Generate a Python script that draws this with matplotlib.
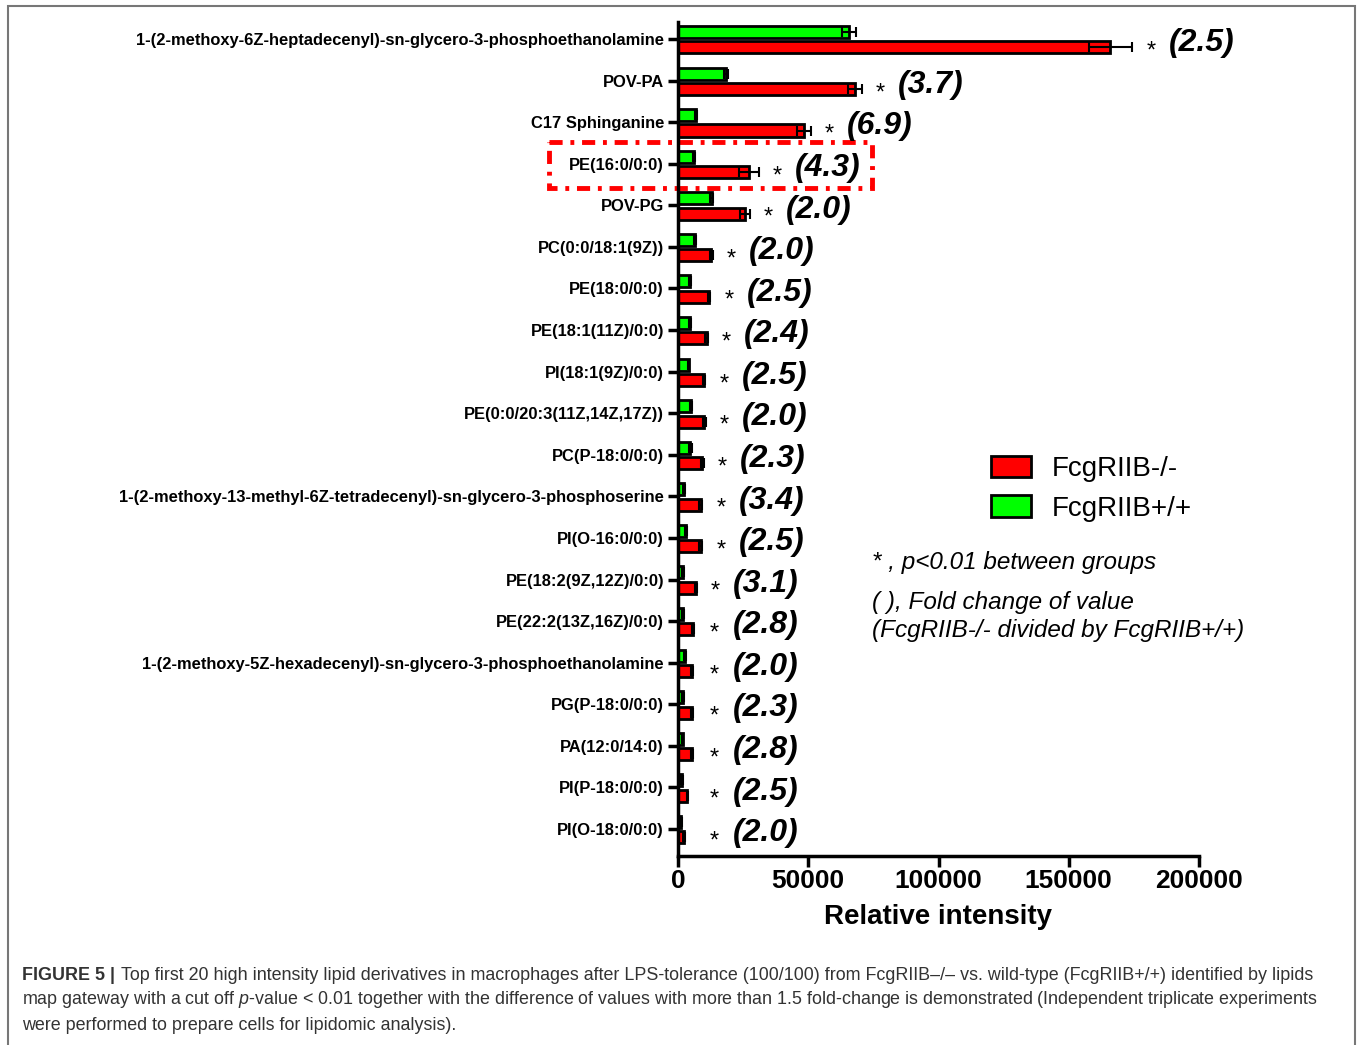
import numpy as np
import matplotlib.pyplot as plt
from matplotlib.patches import Rectangle

plt.rcParams['font.family'] = ['Liberation Sans', 'DejaVu Sans']
plt.rcParams['mathtext.fontset'] = 'custom'
plt.rcParams['mathtext.rm'] = 'Liberation Sans'
plt.rcParams['mathtext.it'] = 'Liberation Sans:italic'

# lipid names, top to bottom
lipids = [
    '1-(2-methoxy-6Z-heptadecenyl)-sn-glycero-3-phosphoethanolamine',
    'POV-PA',
    'C17 Sphinganine',
    'PE(16:0/0:0)',
    'POV-PG',
    'PC(0:0/18:1(9Z))',
    'PE(18:0/0:0)',
    'PE(18:1(11Z)/0:0)',
    'PI(18:1(9Z)/0:0)',
    'PE(0:0/20:3(11Z,14Z,17Z))',
    'PC(P-18:0/0:0)',
    '1-(2-methoxy-13-methyl-6Z-tetradecenyl)-sn-glycero-3-phosphoserine',
    'PI(O-16:0/0:0)',
    'PE(18:2(9Z,12Z)/0:0)',
    'PE(22:2(13Z,16Z)/0:0)',
    '1-(2-methoxy-5Z-hexadecenyl)-sn-glycero-3-phosphoethanolamine',
    'PG(P-18:0/0:0)',
    'PA(12:0/14:0)',
    'PI(P-18:0/0:0)',
    'PI(O-18:0/0:0)',
]

# FcgRIIB-/- (red)
ko_mean = [166000, 68000, 48400, 27300, 25700, 12700, 11900, 11000, 10000, 10100,
           9300, 8800, 8700, 6900, 5900, 5400, 5200, 5200, 3600, 2400]
ko_err = [8400, 2700, 2700, 3800, 1800, 600, 500, 500, 500, 500,
          600, 600, 700, 400, 400, 400, 400, 400, 300, 300]

# FcgRIIB+/+ (green)
wt_mean = [65700, 18400, 6900, 6100, 13000, 6500, 4600, 4600, 4100, 4900,
           4700, 2400, 3100, 2000, 2000, 2700, 2000, 1800, 1500, 1200]
wt_err = [2700, 800, 300, 300, 600, 300, 300, 300, 300, 300,
          600, 300, 300, 300, 300, 300, 300, 300, 300, 300]

fold = ['2.5', '3.7', '6.9', '4.3', '2.0', '2.0', '2.5', '2.4', '2.5', '2.0',
        '2.3', '3.4', '2.5', '3.1', '2.8', '2.0', '2.3', '2.8', '2.5', '2.0']

xticks = [0, 50000, 100000, 150000, 200000]

W, H = 1357, 1045
fig = plt.figure(figsize=(W / 100, H / 100), dpi=100)
ax = fig.add_axes([678 / W, 1 - 856 / H, (1199 - 678) / W, (856 - 22) / H])

y = np.arange(len(lipids))
bh = 0.29
ekw = dict(ecolor='black', elinewidth=1.5, capsize=3.5, capthick=1.5)
wt_bars = ax.barh(y - 0.17, wt_mean, height=bh, xerr=wt_err, color='#00ff00',
                  edgecolor='black', linewidth=2, error_kw=ekw, label='FcgRIIB+/+')
ko_bars = ax.barh(y + 0.20, ko_mean, height=bh, xerr=ko_err, color='#ff0000',
                  edgecolor='black', linewidth=2, error_kw=ekw, label='FcgRIIB-/-')

ax.set_ylim(len(lipids) - 1 + 0.65, -0.41)
ax.set_xlim(0, 200000)
ax.set_xticks(xticks)
ax.set_xticklabels([str(t) for t in xticks], fontsize=19, fontweight='bold')
ax.set_yticks(y)
ax.set_yticklabels(lipids, fontsize=11.9, fontweight='bold')
ax.set_xlabel('Relative intensity', fontsize=20, fontweight='bold', labelpad=8)

for s in ['top', 'right']:
    ax.spines[s].set_visible(False)
for s in ['left', 'bottom']:
    ax.spines[s].set_linewidth(2.5)
ax.tick_params(axis='y', length=7, width=2.5, pad=3)
ax.tick_params(axis='x', length=8, width=2.5, pad=1)

# stars and fold-change labels after the red bars
for i in range(len(lipids)):
    anchor = max(ko_mean[i] + ko_err[i], 7000)
    ax.annotate('*', xy=(anchor, i + 0.20), xytext=(10, -3), textcoords='offset points',
                ha='left', va='center', fontsize=17, annotation_clip=False)
    ax.annotate('(' + fold[i] + ')', xy=(anchor, i + 0.1), xytext=(26, 0),
                textcoords='offset points', ha='left', va='center', fontsize=23,
                fontweight='bold', fontstyle='italic', annotation_clip=False)

# dash-dot box around PE(16:0/0:0)
box = Rectangle((-49500, 2.48), 124000, 1.1, fill=False, edgecolor='#ff0000',
                linewidth=3.5, linestyle=(0, (2.7, 1.6, 0.8, 1.6)), clip_on=False)
ax.add_patch(box)

fig.legend(handles=[ko_bars, wt_bars], labels=['FcgRIIB-/-', 'FcgRIIB+/+'],
           loc='upper left', bbox_to_anchor=(966 / W, 1 - 431 / H), frameon=False,
           fontsize=20, handlelength=1.45, handleheight=0.8, handletextpad=0.72,
           labelspacing=0.47, borderpad=0.4)

fig.text(872 / W, 1 - 562 / H, '* , p<0.01 between groups', fontsize=17.5,
         fontstyle='italic', va='center', ha='left')
fig.text(872 / W, 1 - 603 / H, '( ), Fold change of value', fontsize=17.5,
         fontstyle='italic', va='center', ha='left')
fig.text(872 / W, 1 - 631 / H, '(FcgRIIB-/- divided by FcgRIIB+/+)', fontsize=17.5,
         fontstyle='italic', va='center', ha='left')

# outer frame
fig.patches.append(Rectangle((8 / W, -0.01), (1355 - 8) / W, 1 - 6 / H + 0.01,
                             transform=fig.transFigure, fill=False,
                             edgecolor='#777777', linewidth=1.5))

# caption
cap_col = '#333333'
fs = 12.9
head = fig.text(22 / W, 1 - 975 / H, 'FIGURE 5 |', fontsize=fs, fontweight='bold',
                color=cap_col, va='center', ha='left')
ax.annotate('Top first 20 high intensity lipid derivatives in macrophages after '
            'LPS-tolerance (100/100) from FcgRIIB\u2013/\u2013 vs. wild-type (FcgRIIB+/+) '
            'identified by lipids', xy=(1, 0.5), xycoords=head, xytext=(4, 0),
            textcoords='offset points', fontsize=fs, color=cap_col, va='center', ha='left')
fig.text(22 / W, 1 - 1000 / H,
         'map gateway with a cut off $p$-value < 0.01 together with the difference of '
         'values with more than 1.5 fold-change is demonstrated (Independent triplicate experiments',
         fontsize=fs, color=cap_col, va='center', ha='left')
fig.text(22 / W, 1 - 1025 / H, 'were performed to prepare cells for lipidomic analysis).',
         fontsize=fs, color=cap_col, va='center', ha='left')

fig.savefig('out.png', dpi=100)
